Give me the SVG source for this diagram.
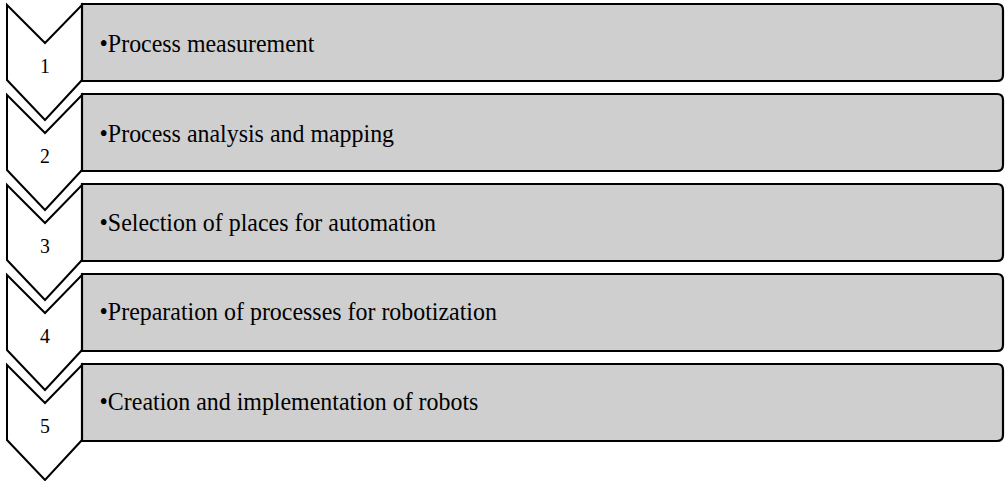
<svg xmlns="http://www.w3.org/2000/svg" width="1005" height="481" viewBox="0 0 1005 481">
<style>
.chev{fill:#ffffff;stroke:#000000;stroke-width:2;stroke-linejoin:miter}
.box{fill:#cfcfcf;stroke:#000000;stroke-width:2.2}
.num{font-family:"Liberation Serif","Times New Roman",serif;font-size:22px;fill:#000000;text-anchor:middle}
.lbl{font-family:"Liberation Serif","Times New Roman",serif;font-size:26px;fill:#000000}
</style>
<rect width="1005" height="481" fill="#ffffff"/>
<g id="step1">
<path class="chev" d="M7,5 L45,43 L82,5 L82,80 L45,120 L7,80 Z"/>
<path class="box" d="M82,4 H997 Q1003,4 1003,10 V75 Q1003,81 997,81 H82 Z"/>
<text class="num" transform="translate(45,73) scale(0.9,1)">1</text>
<text class="lbl" transform="translate(99.5,52) scale(0.92,1)">•Process measurement</text>
</g>
<g id="step2">
<path class="chev" d="M7,95 L45,133 L82,95 L82,170 L45,210 L7,170 Z"/>
<path class="box" d="M82,94 H997 Q1003,94 1003,100 V165 Q1003,171 997,171 H82 Z"/>
<text class="num" transform="translate(45,163) scale(0.9,1)">2</text>
<text class="lbl" transform="translate(99.5,142) scale(0.92,1)">•Process analysis and mapping</text>
</g>
<g id="step3">
<path class="chev" d="M7,185 L45,223 L82,185 L82,260 L45,300 L7,260 Z"/>
<path class="box" d="M82,184 H997 Q1003,184 1003,190 V255 Q1003,261 997,261 H82 Z"/>
<text class="num" transform="translate(45,253) scale(0.9,1)">3</text>
<text class="lbl" transform="translate(99.5,231) scale(0.92,1)">•Selection of places for automation</text>
</g>
<g id="step4">
<path class="chev" d="M7,275 L45,313 L82,275 L82,350 L45,390 L7,350 Z"/>
<path class="box" d="M82,274 H997 Q1003,274 1003,280 V345 Q1003,351 997,351 H82 Z"/>
<text class="num" transform="translate(45,343) scale(0.9,1)">4</text>
<text class="lbl" transform="translate(99.5,320) scale(0.92,1)">•Preparation of processes for robotization</text>
</g>
<g id="step5">
<path class="chev" d="M7,365 L45,403 L82,365 L82,440 L45,480 L7,440 Z"/>
<path class="box" d="M82,364 H997 Q1003,364 1003,370 V435 Q1003,441 997,441 H82 Z"/>
<text class="num" transform="translate(45,433) scale(0.9,1)">5</text>
<text class="lbl" transform="translate(99.5,410) scale(0.92,1)">•Creation and implementation of robots</text>
</g>
<g id="connectors"></g>
</svg>
